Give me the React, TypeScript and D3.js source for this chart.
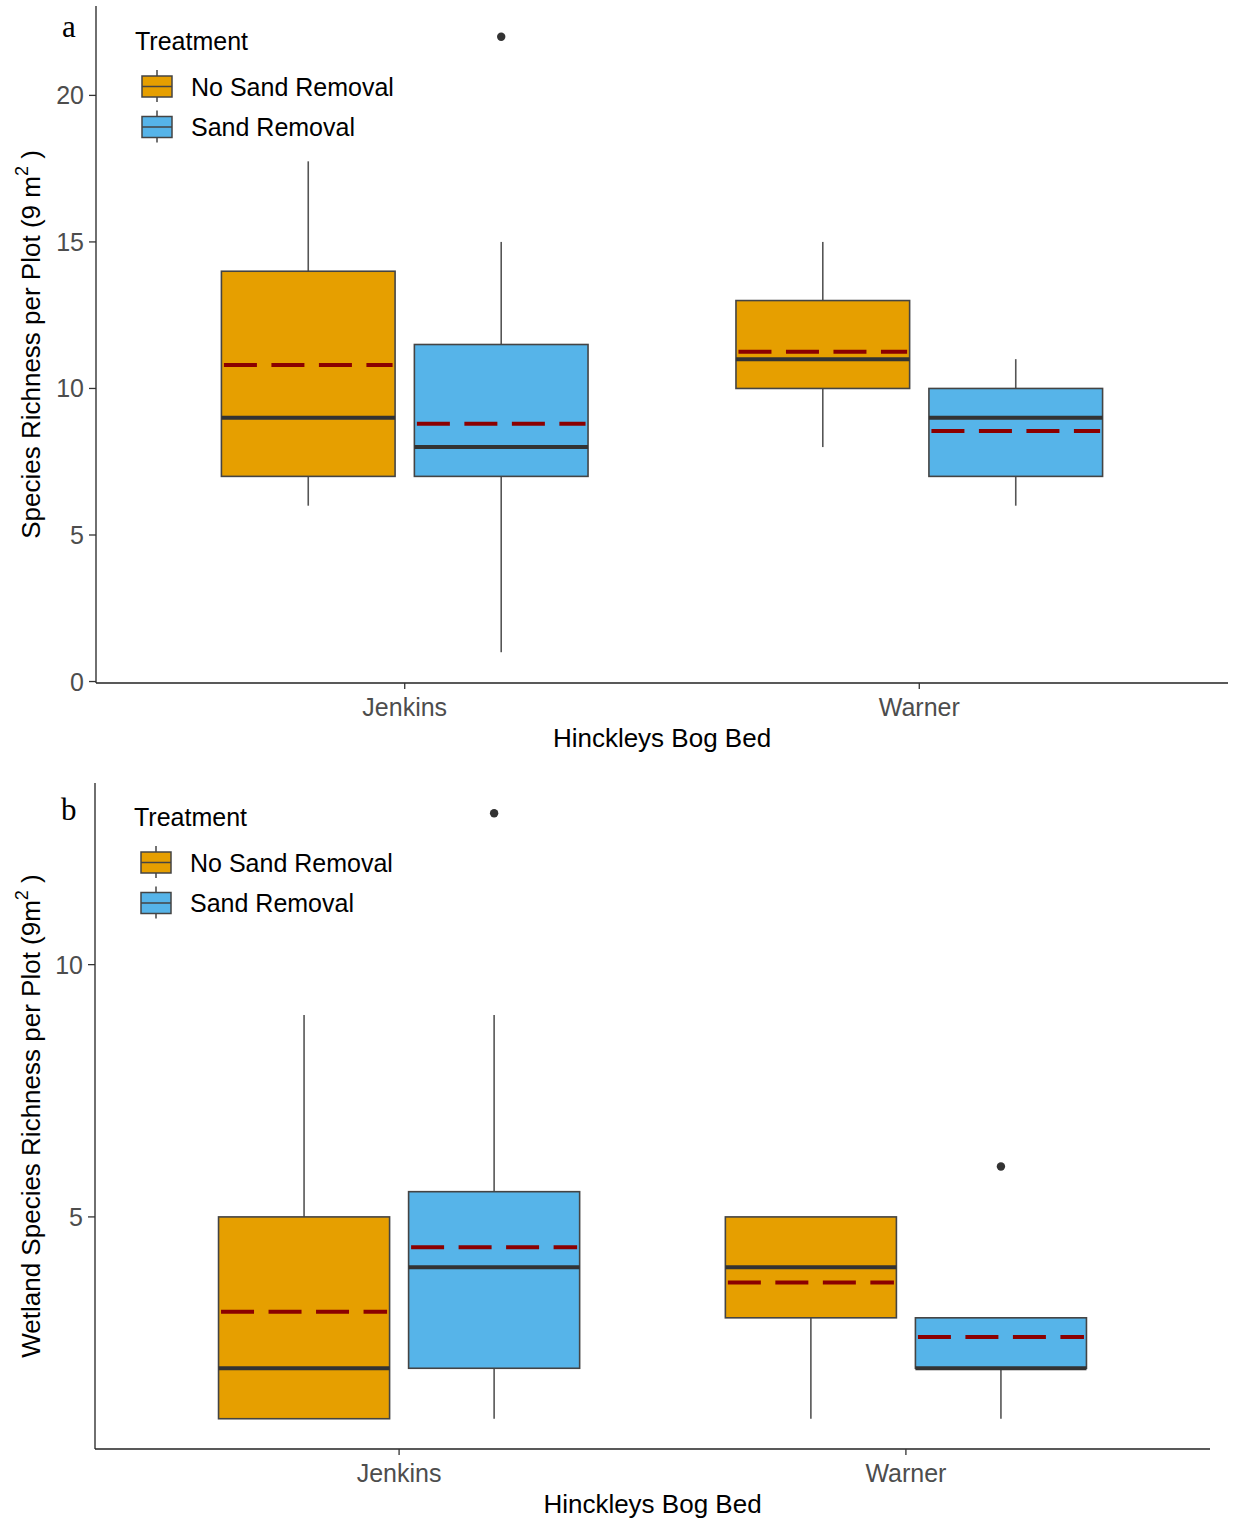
import React from "react"
import * as d3 from "d3"

// groups: Jenkins / Warner, each with No Sand Removal and Sand Removal
const beds = ["Jenkins", "Warner"]
const treatments = ["No Sand Removal", "Sand Removal"]
const treatmentColors = ["#E69F00", "#56B4E9"]

// panel a: species richness, order JNSR, JSR, WNSR, WSR
const richLow = [6, 1, 8, 6]
const richQ1 = [7, 7, 10, 7]
const richMedian = [9, 8, 11, 9]
const richQ3 = [14, 11.5, 13, 10]
const richHigh = [17.75, 15, 15, 11]
const richMean = [10.8, 8.8, 11.25, 8.55]
const richOutliers = [[], [22], [], []]
const richTicks = [0, 5, 10, 15, 20]

// panel b: wetland species richness
const wetLow = [1, 1, 1, 1]
const wetQ1 = [1, 2, 3, 2]
const wetMedian = [2, 4, 4, 2]
const wetQ3 = [5, 5.5, 5, 3]
const wetHigh = [9, 9, 5, 3]
const wetMean = [3.12, 4.4, 3.7, 2.62]
const wetOutliers = [[], [13], [], [6]]
const wetTicks = [5, 10]

const FONT = "'Liberation Sans', Arimo, Arial, sans-serif"

const Panel = (props: any) => {
    const {left, right, top, bottom, low, q1, med, q3, high, mean, outliers, ticks,
        yTitle, letter, legendY} = props

    const all = [...low, ...high, ...outliers.flat()]
    const lo = d3.min(all) as number
    const hi = d3.max(all) as number
    const pad = (hi - lo) * 0.05
    const y = d3.scaleLinear().domain([lo - pad, hi + pad]).range([bottom, top])
    const x = d3.scaleLinear().domain([0.4, 2.6]).range([left, right])

    const dodge = 0.1875
    const boxW = 0.3375
    const groups = d3.range(4).map(i => {
        const b = Math.floor(i / 2)
        const t = i % 2
        const cx = b + 1 + (t === 0 ? -dodge : dodge)
        return {i, t, x0: x(cx - boxW / 2), x1: x(cx + boxW / 2), xc: x(cx)}
    })

    const yMid = (top + bottom) / 2
    const xMid = (left + right) / 2

    return (
        <g>
            {groups.map(g => (
                <g key={g.i}>
                    <line x1={g.xc} x2={g.xc} y1={y(high[g.i])} y2={y(q3[g.i])} stroke="#555" strokeWidth={1.6}/>
                    <line x1={g.xc} x2={g.xc} y1={y(q1[g.i])} y2={y(low[g.i])} stroke="#555" strokeWidth={1.6}/>
                    <rect x={g.x0} y={y(q3[g.i])} width={g.x1 - g.x0} height={y(q1[g.i]) - y(q3[g.i])}
                          fill={treatmentColors[g.t]} stroke="#444" strokeWidth={1.6}/>
                    <line x1={g.x0} x2={g.x1} y1={y(med[g.i])} y2={y(med[g.i])} stroke="#333" strokeWidth={4}/>
                    <line x1={g.x0 + 2.5} x2={g.x1 - 2.5} y1={y(mean[g.i])} y2={y(mean[g.i])}
                          stroke="#8B0000" strokeWidth={4} strokeDasharray="33,14.5"/>
                    {outliers[g.i].map((v: number, k: number) => (
                        <circle key={k} cx={g.xc} cy={y(v)} r={4.2} fill="#333"/>
                    ))}
                </g>
            ))}

            {/* axes */}
            <line x1={left} x2={left} y1={top} y2={bottom} stroke="#222" strokeWidth={1.3}/>
            <line x1={left} x2={right} y1={bottom} y2={bottom} stroke="#222" strokeWidth={1.3}/>
            {ticks.map((t: number) => (
                <g key={t}>
                    <line x1={left - 7} x2={left} y1={y(t)} y2={y(t)} stroke="#333" strokeWidth={1.3}/>
                    <text x={left - 12} y={y(t)} dy="0.36em" textAnchor="end" fontSize={25}
                          fill="#4D4D4D" fontFamily={FONT}>{t}</text>
                </g>
            ))}
            {beds.map((b, i) => (
                <g key={b}>
                    <line x1={x(i + 1)} x2={x(i + 1)} y1={bottom} y2={bottom + 6} stroke="#333" strokeWidth={1.3}/>
                    <text x={x(i + 1)} y={bottom + 33} textAnchor="middle" fontSize={25}
                          fill="#4D4D4D" fontFamily={FONT}>{b}</text>
                </g>
            ))}
            <text x={xMid} y={bottom + 64} textAnchor="middle" fontSize={26} fill="#000"
                  fontFamily={FONT}>Hinckleys Bog Bed</text>
            <text transform={`translate(40,${yMid}) rotate(-90)`} textAnchor="middle" fontSize={26}
                  fill="#000" fontFamily={FONT}>
                {yTitle}<tspan fontSize={18} dy={-12}>2</tspan><tspan dy={12}> )</tspan>
            </text>
            <text x={left - 34} y={letter} fontSize={31} fontFamily="'Liberation Serif', 'Times New Roman', serif"
                  fill="#000">{props.letterText}</text>

            {/* legend */}
            <text x={left + 39} y={legendY} fontSize={25} fill="#000" fontFamily={FONT}>Treatment</text>
            {treatments.map((t, i) => {
                const ky = legendY + 26 + i * 40.5
                const kx = left + 46
                return (
                    <g key={t}>
                        <line x1={kx + 15} x2={kx + 15} y1={ky - 6} y2={ky + 26} stroke="#444" strokeWidth={1.5}/>
                        <rect x={kx} y={ky} width={30} height={21} fill={treatmentColors[i]} stroke="#444" strokeWidth={1.5}/>
                        <line x1={kx} x2={kx + 30} y1={ky + 10.5} y2={ky + 10.5} stroke="#444" strokeWidth={1.5}/>
                        <text x={kx + 49} y={ky + 19.5} fontSize={25} fill="#000" fontFamily={FONT}>{t}</text>
                    </g>
                )
            })}
        </g>
    )
}

export default function App() {
    return (
        <svg width={1233} height={1519} viewBox="0 0 1233 1519"
             style={{position: "absolute", left: 0, top: 0, background: "#fff"}}>
            <rect width={1233} height={1519} fill="#fff"/>
            <Panel left={96} right={1228} top={6} bottom={683}
                   low={richLow} q1={richQ1} med={richMedian} q3={richQ3} high={richHigh}
                   mean={richMean} outliers={richOutliers} ticks={richTicks}
                   yTitle="Species Richness per Plot (9 m" letter={37} letterText="a" legendY={50}/>
            <Panel left={95} right={1210} top={783} bottom={1449}
                   low={wetLow} q1={wetQ1} med={wetMedian} q3={wetQ3} high={wetHigh}
                   mean={wetMean} outliers={wetOutliers} ticks={wetTicks}
                   yTitle="Wetland Species Richness per Plot (9m" letter={820} letterText="b" legendY={826}/>
        </svg>
    )
}
